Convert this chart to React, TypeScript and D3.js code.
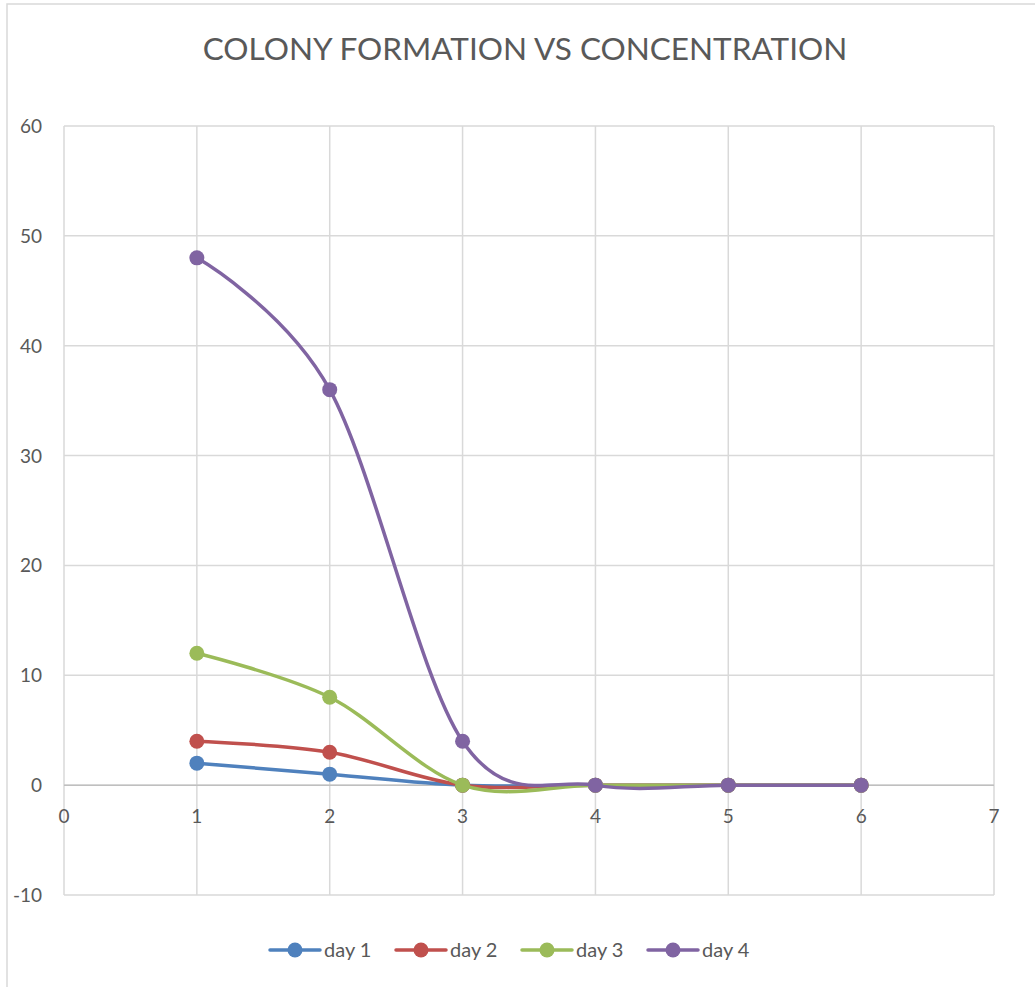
import React from "react";
import * as d3 from "d3";

const concentrations = [1, 2, 3, 4, 5, 6];
const seriesNames = ["day 1", "day 2", "day 3", "day 4"];
const day1 = [2, 1, 0, 0, 0, 0];
const day2 = [4, 3, 0, 0, 0, 0];
const day3 = [12, 8, 0, 0, 0, 0];
const day4 = [48, 36, 4, 0, 0, 0];
const seriesColors = ["#4F81BD", "#C0504D", "#9BBB59", "#8064A2"];
const xTicks = [0, 1, 2, 3, 4, 5, 6, 7];
const yTicks = [-10, 0, 10, 20, 30, 40, 50, 60];
const title = "COLONY FORMATION VS CONCENTRATION";

const W = 1035;
const H = 987;
const FONT = "Lato, 'Open Sans', sans-serif";

export default function App() {
  const x = d3.scaleLinear().domain([0, 7]).range([64, 994]);
  const y = d3.scaleLinear().domain([-10, 60]).range([895, 126]);
  const allSeries = [day1, day2, day3, day4];
  const line = d3
    .line<[number, number]>()
    .x((d) => x(d[0]))
    .y((d) => y(d[1]))
    .curve(d3.curveCardinal.tension(0));

  const legendX = [270, 396, 522, 648];

  return (
    <svg
      width={W}
      height={H}
      style={{ position: "absolute", left: 0, top: 0, background: "#fff" }}
    >
      <rect x={7} y={4} width={W + 20} height={H + 20} fill="#fff" stroke="#d9d9d9" strokeWidth={1.5} />
      <text
        x={525}
        y={60}
        textAnchor="middle"
        fontFamily={FONT}
        fontSize={31.5}
        fill="#595959"
      >
        {title}
      </text>
      {/* gridlines */}
      {yTicks.map((t) => (
        <line key={"gy" + t} x1={x(0)} x2={x(7)} y1={y(t)} y2={y(t)} stroke="#d9d9d9" strokeWidth={1.5} />
      ))}
      {xTicks.map((t) => (
        <line key={"gx" + t} x1={x(t)} x2={x(t)} y1={y(60)} y2={y(-10)} stroke="#d9d9d9" strokeWidth={1.5} />
      ))}
      <line x1={x(0)} x2={x(7)} y1={y(0)} y2={y(0)} stroke="#bfbfbf" strokeWidth={1.5} />
      {/* y tick labels */}
      {yTicks.map((t) => (
        <text
          key={"ty" + t}
          x={42}
          y={y(t) + 7}
          textAnchor="end"
          fontFamily={FONT}
          fontSize={19}
          fill="#595959"
        >
          {t}
        </text>
      ))}
      {/* x tick labels */}
      {xTicks.map((t) => (
        <text
          key={"tx" + t}
          x={x(t)}
          y={y(0) + 38}
          textAnchor="middle"
          fontFamily={FONT}
          fontSize={19}
          fill="#595959"
        >
          {t}
        </text>
      ))}
      {/* series */}
      {allSeries.map((vals, i) => {
        const pts = concentrations.map((c, j) => [c, vals[j]] as [number, number]);
        return (
          <g key={"s" + i}>
            <path d={line(pts) || ""} fill="none" stroke={seriesColors[i]} strokeWidth={3.5} strokeLinecap="round" />
            {pts.map((p, j) => (
              <circle key={j} cx={x(p[0])} cy={y(p[1])} r={7.5} fill={seriesColors[i]} />
            ))}
          </g>
        );
      })}
      {/* legend */}
      {seriesNames.map((name, i) => (
        <g key={"l" + i}>
          <line x1={legendX[i]} x2={legendX[i] + 50} y1={950} y2={950} stroke={seriesColors[i]} strokeWidth={3.5} strokeLinecap="round" />
          <circle cx={legendX[i] + 25} cy={950} r={7.5} fill={seriesColors[i]} />
          <text x={legendX[i] + 54} y={957} fontFamily={FONT} fontSize={20} fill="#595959">
            {name}
          </text>
        </g>
      ))}
    </svg>
  );
}
